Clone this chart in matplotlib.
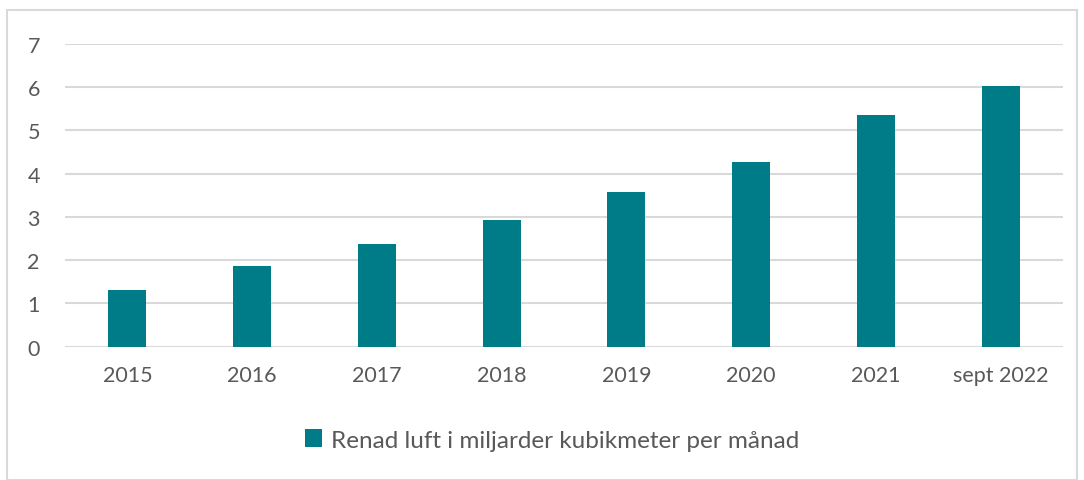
import matplotlib.pyplot as plt
from matplotlib.patches import Rectangle
import numpy as np

categories = ["2015", "2016", "2017", "2018", "2019", "2020", "2021", "sept 2022"]
values = [1.30, 1.86, 2.38, 2.93, 3.58, 4.28, 5.35, 6.03]
series_name = "Renad luft i miljarder kubikmeter per månad"

teal = "#007C89"
grey_text = "#595959"
grid_col = "#D9D9D9"

plt.rcParams['font.family'] = ['Lato', 'DejaVu Sans']

fig = plt.figure(figsize=(10.84, 4.81), dpi=100)
ax = fig.add_axes([65/1084, 1 - 347.7/481, (1063 - 65)/1084, (347.7 - 45)/481])

x = np.arange(len(categories))
ax.bar(x, values, width=0.305, color=teal, label=series_name, zorder=3)

ax.set_xlim(-0.5, len(categories) - 0.5)
ax.set_ylim(0, 7)
ax.set_yticks(range(0, 8))
ax.set_xticks(x)
ax.set_xticklabels(categories)
ax.tick_params(axis="both", length=0, colors=grey_text, labelsize=15.5)
ax.tick_params(axis="x", pad=13)
ax.tick_params(axis="y", pad=27)
for lbl in ax.get_yticklabels():
    lbl.set_horizontalalignment("left")

ax.grid(axis="y", color=grid_col, linewidth=1.5, zorder=0)
for s in ax.spines.values():
    s.set_visible(False)

fig.legend(loc="center", bbox_to_anchor=(552/1084, 1 - 441/481), frameon=False,
           fontsize=17.5, labelcolor=grey_text, handlelength=0.7, handleheight=0.7,
           handletextpad=0.4)

fig.patches.append(Rectangle((7/1084, 0), (1077 - 7)/1084, 1 - 11/481,
                             transform=fig.transFigure, fill=False,
                             edgecolor=grid_col, linewidth=1.5))

fig.savefig("out.png", dpi=100)
